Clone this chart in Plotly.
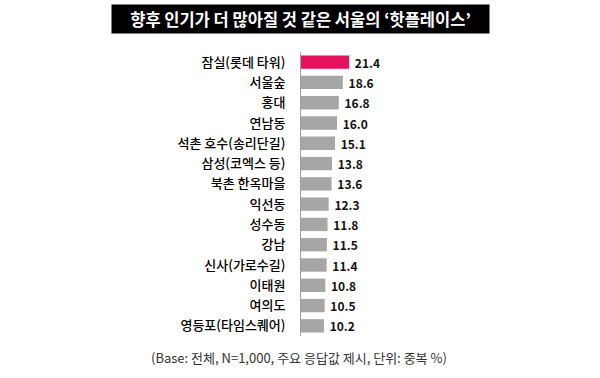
import plotly.graph_objects as go

categories = ["잠실(롯데 타워)", "서울숲", "홍대", "연남동", "석촌 호수(송리단길)", "삼성(코엑스 등)",
              "북촌 한옥마을", "익선동", "성수동", "강남", "신사(가로수길)", "이태원", "여의도", "영등포(타임스퀘어)"]
values = [21.4, 18.6, 16.8, 16.0, 15.1, 13.8, 13.6, 12.3, 11.8, 11.5, 11.4, 10.8, 10.5, 10.2]
title_text = "향후 인기가 더 많아질 것 같은 서울의 ‘핫플레이스’"
note_text = "(Base: 전체, N=1,000, 주요 응답값 제시, 단위: 중복 %)"

colors = ["#E5105E"] + ["#A6A6A6"] * (len(values) - 1)
FONT = "Noto Sans CJK KR"

L, R, T, B = 301, 209, 52, 42
W, H = 600, 378

fig = go.Figure(go.Bar(
    x=values, y=categories, orientation="h",
    marker=dict(color=colors, line=dict(width=0)),
    width=0.66,
    text=[f"&nbsp;<b>{v:.1f}</b>" for v in values],
    textposition="outside",
    constraintext="none",
    textfont=dict(family=FONT, size=12, color="#111"),
    cliponaxis=False,
    hoverinfo="skip",
))

fig.update_layout(
    width=W, height=H,
    margin=dict(l=L, r=R, t=T, b=B),
    paper_bgcolor="white", plot_bgcolor="white",
    showlegend=False,
    font=dict(family=FONT, size=12, color="#111"),
    xaxis=dict(range=[0, 40], visible=False, showgrid=False, zeroline=False, automargin=False),
    yaxis=dict(autorange=False, range=[13.5, -0.5], showline=True, linecolor="#A0A0A0", linewidth=1,
               ticks="", showgrid=False, ticklabelstandoff=12, automargin=False,
               tickfont=dict(family=FONT, size=13, color="#000", weight=500)),
)

ph = H - T - B
pw = W - L - R
def px_x(px):
    return (px - L) / pw
def px_y(py):
    return (H - B - py) / ph

fig.add_annotation(text=f"<b>{title_text}</b>", x=px_x(300.5), y=px_y(19), xref="paper", yref="paper",
                   xanchor="center", yanchor="middle", showarrow=False, bgcolor="black",
                   width=375, height=26, font=dict(family=FONT, size=16.5, color="white"))
fig.add_annotation(text=note_text, x=px_x(299), y=px_y(358), xref="paper", yref="paper",
                   xanchor="center", yanchor="middle", showarrow=False,
                   font=dict(family=FONT, size=13, color="#333"))

fig.write_html("out.html", config={"displayModeBar": False},
               post_script="document.body.style.margin='0';document.body.style.overflow='hidden';")
